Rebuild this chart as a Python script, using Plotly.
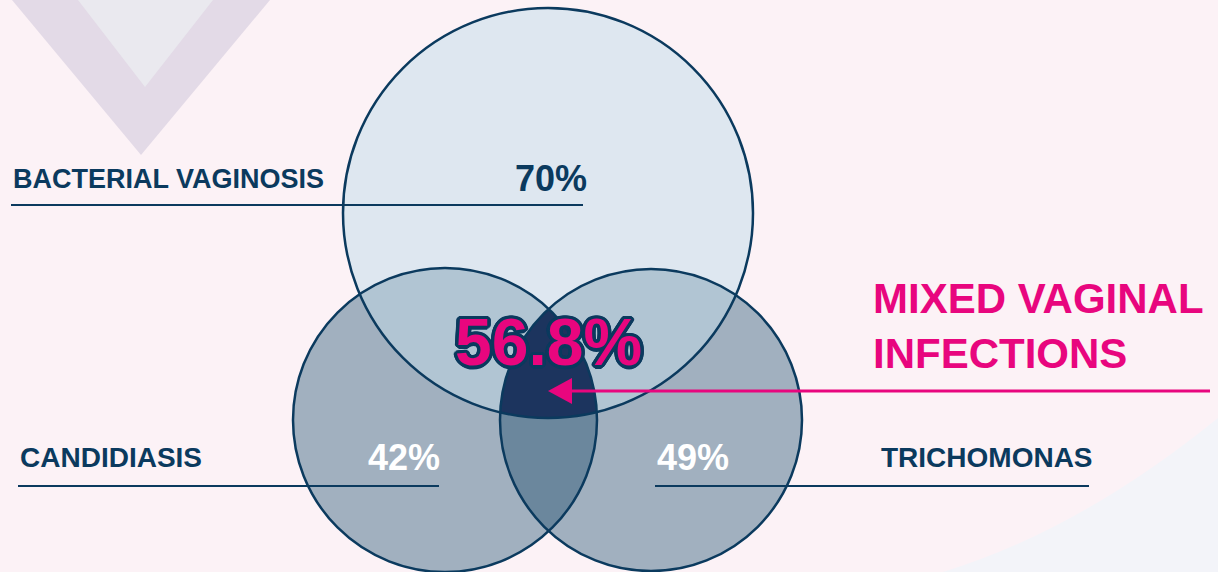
import numpy as np
import plotly.graph_objects as go

# ---- data ----
categories = ["BACTERIAL VAGINOSIS", "CANDIDIASIS", "TRICHOMONAS"]
prevalence = [70, 42, 49]          # percent
mixed_label = "MIXED VAGINAL<br>INFECTIONS"
mixed_value = 56.8                 # percent

# ---- layout geometry (pixel-like coordinates, y downwards) ----
W, H = 1218, 572
circles = {  # cx, cy, r
    "top": (548, 213, 205),
    "left": (445, 420, 152),
    "right": (651, 420, 151),
}
NAVY = "#0B3A5E"
PINK = "#E8067E"


def inside(p, c, tol=0.5):
    return (p[0] - c[0]) ** 2 + (p[1] - c[1]) ** 2 <= (c[2] + tol) ** 2


def intersection_path(names, n=1440):
    cs = [circles[k] for k in names]
    pts = []
    t = np.linspace(0, 2 * np.pi, n, endpoint=False)
    for i, c in enumerate(cs):
        xs = c[0] + c[2] * np.cos(t)
        ys = c[1] + c[2] * np.sin(t)
        for x, y in zip(xs, ys):
            if all(inside((x, y), o) for j, o in enumerate(cs) if j != i):
                pts.append((x, y))
    pts = np.array(pts)
    cx, cy = pts.mean(axis=0)
    ang = np.arctan2(pts[:, 1] - cy, pts[:, 0] - cx)
    pts = pts[np.argsort(ang)]
    return "M " + " L ".join(f"{x:.2f},{y:.2f}" for x, y in pts) + " Z"


def circ(name, fill=None, line=None):
    cx, cy, r = circles[name]
    d = dict(type="circle", xref="x", yref="y", x0=cx - r, x1=cx + r,
             y0=cy - r, y1=cy + r)
    d["fillcolor"] = fill if fill else "rgba(0,0,0,0)"
    d["line"] = dict(color=line, width=2.5) if line else dict(width=0)
    return d


shapes = []
# background decorations
shapes.append(dict(type="path", path="M 12,0 L 270,0 L 141,155 Z",
                   fillcolor="#E3DAE7", line=dict(width=0)))
shapes.append(dict(type="path", path="M 78,0 L 213,0 L 145,87 Z",
                   fillcolor="#EAE9EF", line=dict(width=0)))
shapes.append(dict(type="path", path="M 1218,418 Q 1080,530 943,572 L 1218,572 Z",
                   fillcolor="#F3F4F9", line=dict(width=0)))

# venn regions
shapes.append(circ("top", "#DEE7F0"))
shapes.append(circ("left", "#A1B0BF"))
shapes.append(circ("right", "#A1B0BF"))
for pair, col in [(("top", "left"), "#B1C5D3"), (("top", "right"), "#B1C5D3"),
                  (("left", "right"), "#6B879D"),
                  (("top", "left", "right"), "#1C345E")]:
    shapes.append(dict(type="path", path=intersection_path(pair),
                       fillcolor=col, line=dict(width=0)))
for k in circles:
    shapes.append(circ(k, None, NAVY))

# label lines
shapes += [
    dict(type="line", x0=11, x1=583, y0=205, y1=205, line=dict(color=NAVY, width=2)),
    dict(type="line", x0=18, x1=439, y0=486, y1=486, line=dict(color=NAVY, width=2)),
    dict(type="line", x0=655, x1=1089, y0=486, y1=486, line=dict(color=NAVY, width=2)),
    dict(type="line", x0=566, x1=1210, y0=391, y1=391, line=dict(color=PINK, width=3)),
    dict(type="path", path="M 548,391 L 572,378 L 572,404 Z",
         fillcolor=PINK, line=dict(width=0)),
]
for s in shapes:
    s.setdefault("xref", "x")
    s.setdefault("yref", "y")

FONT = "Liberation Sans, Arial, sans-serif"
ann = []
# category labels
label_pos = [(11, 179, 27), (18, 457, 28), (879, 457, 28)]
for name, (x, y, sz) in zip(categories, label_pos):
    ann.append(dict(x=x, y=y, text=f"<b>{name}</b>", xanchor="left", yanchor="middle",
                    showarrow=False, font=dict(family=FONT, size=sz, color=NAVY)))
# values
val_pos = [(551, 178, NAVY), (404, 457, "white"), (693, 457, "white")]
for v, (x, y, col) in zip(prevalence, val_pos):
    ann.append(dict(x=x, y=y, text=f"<b>{v}%</b>", xanchor="center", yanchor="middle",
                    showarrow=False, font=dict(family=FONT, size=36, color=col)))
# mixed infections (pink text with navy outline)
r = 3.5
angles = np.linspace(0, 2 * np.pi, 16, endpoint=False)
shadow = ", ".join(f"{r*np.cos(a):.2f}px {r*np.sin(a):.2f}px 0 {NAVY}" for a in angles)
ann.append(dict(x=548, y=342, text=f"<b>{mixed_value}%</b>", xanchor="center",
                yanchor="middle", showarrow=False,
                font=dict(family=FONT, size=66, color=PINK, shadow=shadow)))
ann.append(dict(x=871, y=326, text=f"<b>{mixed_label}</b>", xanchor="left",
                yanchor="middle", align="left", showarrow=False,
                font=dict(family=FONT, size=42, color=PINK)))

fig = go.Figure()
fig.update_layout(
    width=W, height=H, autosize=False,
    margin=dict(l=0, r=0, t=0, b=0),
    paper_bgcolor="#FCF2F6", plot_bgcolor="rgba(0,0,0,0)",
    xaxis=dict(range=[0, W], visible=False, fixedrange=True),
    yaxis=dict(range=[H, 0], visible=False, fixedrange=True),
    shapes=shapes, annotations=ann, showlegend=False,
)
fig.write_html("out.html")
